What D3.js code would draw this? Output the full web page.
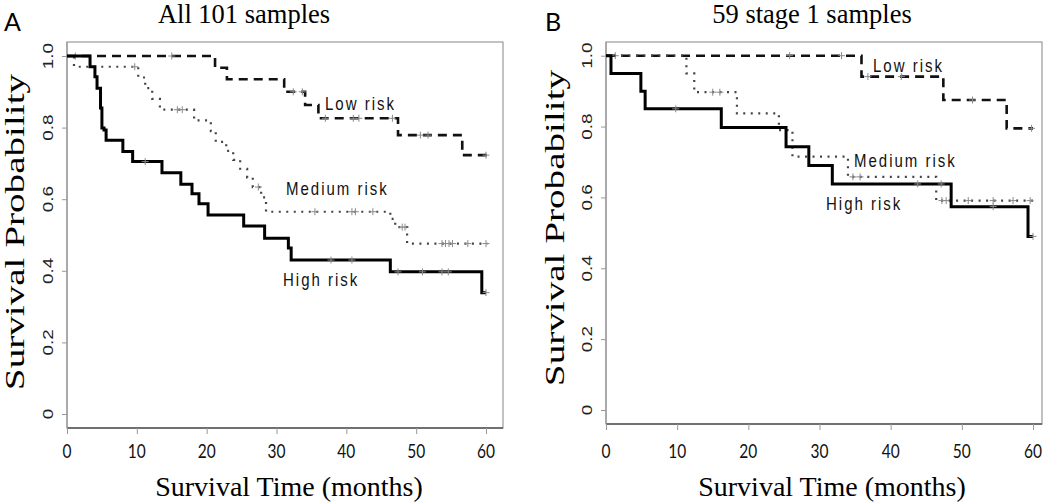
<!DOCTYPE html>
<html><head><meta charset="utf-8">
<script src="https://cdn.jsdelivr.net/npm/d3@7"></script>
<style>body{margin:0;background:#fff}</style>
</head><body>
<svg id="c" width="1050" height="503"></svg>
<script>
// ---------- data ----------
const xTicks = [0, 10, 20, 30, 40, 50, 60];
const yTicks = [0, 0.2, 0.4, 0.6, 0.8, 1.0];
const yTickLabels = ["0", "0.2", "0.4", "0.6", "0.8", "1.0"];
const groupNames = ["Low risk", "Medium risk", "High risk"];
const titles = ["All 101 samples", "59 stage 1 samples"];
const panelLetters = ["A", "B"];
const xLabel = "Survival Time (months)";
const yLabel = "Survival Probability";

// Panel A (all 101 samples)
const lowA_t = [0, 21.2, 22.9, 31.1, 34.1, 36.0, 47.4, 56.6];
const lowA_s = [1, 0.967, 0.935, 0.90, 0.863, 0.826, 0.779, 0.723];
const lowA_end = 60.2;
const lowA_cens = [1.2, 15, 32.4, 33.7, 37, 41, 41.8, 46.6, 50.6, 51.7, 60];

const medA_t = [0, 1.0, 10.2, 11.2, 12.2, 13.3, 18.2, 20.6, 21.3, 22.8, 23.8, 24.8, 25.8, 26.6, 27.8, 28.5, 46.3, 47.0, 48.7];
const medA_s = [1, 0.97, 0.94, 0.91, 0.88, 0.85, 0.82, 0.79, 0.76, 0.735, 0.71, 0.685, 0.66, 0.634, 0.605, 0.565, 0.545, 0.522, 0.476];
const medA_end = 60.2;
const medA_cens = [9.7, 15.8, 16.5, 27.4, 35.5, 40.8, 41.3, 43.8, 48.0, 48.4, 53.7, 54.2, 54.7, 55.2, 57.4, 60];

const highA_t = [0, 3.3, 4.0, 4.3, 4.8, 5.0, 5.3, 5.6, 8.0, 9.4, 13.6, 16.3, 17.9, 18.9, 20.2, 25.3, 28.3, 31.7, 32.1, 46.3, 59.4];
const highA_s = [1, 0.97, 0.942, 0.91, 0.855, 0.799, 0.793, 0.765, 0.733, 0.705, 0.674, 0.642, 0.615, 0.587, 0.556, 0.525, 0.491, 0.464, 0.43, 0.397, 0.339];
const highA_end = 60;
const highA_cens = [11.2, 37.8, 40.8, 47.4, 50.9, 53.7, 54.6, 60];

// Panel B (59 stage 1 samples)
const lowB_t = [0, 35.9, 47.4, 56.3];
const lowB_s = [1, 0.941, 0.875, 0.795];
const lowB_end = 60;
const lowB_cens = [1.3, 25.8, 33.1, 36.8, 41.5, 51.5, 59.8];

const medB_t = [0, 11.3, 12.4, 18.4, 24.3, 26.2, 34.0, 46.4];
const medB_s = [1, 0.95, 0.897, 0.837, 0.79, 0.715, 0.658, 0.591];
const medB_end = 60;
const medB_cens = [15, 16, 34.7, 35.7, 47.2, 47.8, 50.9, 54.4, 57.2, 59.6];

const highB_t = [0, 0.7, 4.9, 5.5, 16.2, 25.3, 28.5, 31.8, 48.5, 59.3];
const highB_s = [1, 0.95, 0.90, 0.85, 0.797, 0.743, 0.69, 0.638, 0.574, 0.49];
const highB_end = 60;
const highB_cens = [9.8, 43.8, 47.1, 54.4, 60];

// ---------- layout ----------
const panels = [
  { boxL: 67, boxR: 503, boxT: 42, boxB: 428, x0: 67, x60: 486, yZero: 414, yOne: 56,
    titleX: 244, letterX: 4, letterY: 31, xlabX: 289, ylabX: 24, ylabY: 232, ytickX: 53,
    curves: [
      { t: lowA_t, s: lowA_s, end: lowA_end, cens: lowA_cens },
      { t: medA_t, s: medA_s, end: medA_end, cens: medA_cens },
      { t: highA_t, s: highA_s, end: highA_end, cens: highA_cens }],
    labels: [[325, 110], [286, 195], [283, 286]] },
  { boxL: 606, boxR: 1042, boxT: 42, boxB: 424, x0: 606, x60: 1033, yZero: 410, yOne: 55.7,
    titleX: 812, letterX: 545, letterY: 31, xlabX: 832, ylabX: 564, ylabY: 228, ytickX: 592,
    curves: [
      { t: lowB_t, s: lowB_s, end: lowB_end, cens: lowB_cens },
      { t: medB_t, s: medB_s, end: medB_end, cens: medB_cens },
      { t: highB_t, s: highB_s, end: highB_end, cens: highB_cens }],
    labels: [[873, 72], [854, 167], [826, 210]] }
];
const styles = [
  { stroke: "#111", width: 2.6, dash: "9,6" },
  { stroke: "#444", width: 2.2, dash: "2,5.5" },
  { stroke: "#000", width: 3, dash: null }
];
const SERIF = "'Liberation Serif','Times New Roman',serif";
const SANS = "'Liberation Sans',Arial,sans-serif";
const TICKF = "Lato,'Open Sans',sans-serif";

const svg = d3.select("#c");

panels.forEach((p, pi) => {
  const x = d3.scaleLinear().domain([0, 60]).range([p.x0, p.x60]);
  const y = d3.scaleLinear().domain([0, 1]).range([p.yZero, p.yOne]);
  const g = svg.append("g");

  // box
  g.append("rect").attr("x", p.boxL).attr("y", p.boxT)
    .attr("width", p.boxR - p.boxL).attr("height", p.boxB - p.boxT)
    .attr("fill", "none").attr("stroke", "#9a9a9a").attr("stroke-width", 1.2);

  // x axis
  const xa = g.append("g").attr("transform", `translate(0,${p.boxB})`)
    .call(d3.axisBottom(x).tickValues(xTicks).tickSize(6).tickSizeOuter(0).tickFormat(""));
  xa.select(".domain").attr("stroke", "#555").attr("stroke-width", 1.5)
    .attr("d", `M${p.boxL},0H${p.boxR}`);
  xa.selectAll(".tick line").attr("stroke", "#999");
  g.selectAll(".xtl").data(xTicks).enter().append("text")
    .attr("transform", d => `translate(${x(d)},458) scale(1,1.2)`)
    .attr("text-anchor", "middle").attr("font-family", TICKF).attr("font-size", 15.5)
    .attr("fill", "#111").text(d => d);

  // y axis
  const ya = g.append("g").attr("transform", `translate(${p.boxL},0)`)
    .call(d3.axisLeft(y).tickValues(yTicks).tickSize(5).tickSizeOuter(0).tickFormat(""));
  ya.select(".domain").attr("stroke", "#9a9a9a").attr("stroke-width", 1.2)
    .attr("d", `M0,${p.boxT}V${p.boxB}`);
  ya.selectAll(".tick line").attr("stroke", "#999");
  g.selectAll(".ytl").data(yTicks).enter().append("text")
    .attr("transform", d => `translate(${p.ytickX},${y(d)}) scale(1,1.35) rotate(-90)`)
    .attr("text-anchor", "middle").attr("font-family", SANS).attr("font-size", 14)
    .attr("fill", "#222").text((d, i) => yTickLabels[i]);

  // curves
  const line = d3.line().x(d => x(d[0])).y(d => y(d[1])).curve(d3.curveStepAfter);
  p.curves.forEach((c, ci) => {
    const pts = c.t.map((t, i) => [t, c.s[i]]);
    pts.push([c.end, c.s[c.s.length - 1]]);
    const st = styles[ci];
    const path = g.append("path").attr("d", line(pts)).attr("fill", "none")
      .attr("stroke", st.stroke).attr("stroke-width", st.width);
    if (st.dash) path.attr("stroke-dasharray", st.dash);
    const sAt = t => { let v = c.s[0]; c.t.forEach((tt, i) => { if (tt <= t) v = c.s[i]; }); return v; };
    g.selectAll(null).data(c.cens).enter().append("path")
      .attr("d", t => { const cx = x(t), cy = y(sAt(t)); return `M${cx - 3.5},${cy}H${cx + 3.5}M${cx},${cy - 3.5}V${cy + 3.5}`; })
      .attr("stroke", "#8a8a8a").attr("stroke-width", 1).attr("fill", "none");
  });

  // curve labels
  groupNames.forEach((nm, i) => {
    g.append("text").attr("transform", `translate(${p.labels[i][0]},${p.labels[i][1]}) scale(1,1.2)`)
      .attr("font-family", SANS).attr("font-size", 15).attr("letter-spacing", 2)
      .attr("fill", "#111").text(nm);
  });

  // titles & labels
  g.append("text").attr("x", p.titleX).attr("y", 23).attr("text-anchor", "middle")
    .attr("font-family", SERIF).attr("font-size", 26.5).attr("fill", "#000").text(titles[pi]);
  g.append("text").attr("x", p.letterX).attr("y", p.letterY)
    .attr("font-family", TICKF).attr("font-size", 25).attr("fill", "#000").text(panelLetters[pi]);
  g.append("text").attr("x", p.xlabX).attr("y", 496).attr("text-anchor", "middle")
    .attr("font-family", SERIF).attr("font-size", 28).attr("fill", "#000").text(xLabel);
  g.append("text").attr("transform", `translate(${p.ylabX},${p.ylabY}) scale(1,1.45) rotate(-90)`)
    .attr("text-anchor", "middle").attr("font-family", SERIF).attr("font-size", 27)
    .attr("fill", "#000").text(yLabel);
});
</script>
</body></html>
